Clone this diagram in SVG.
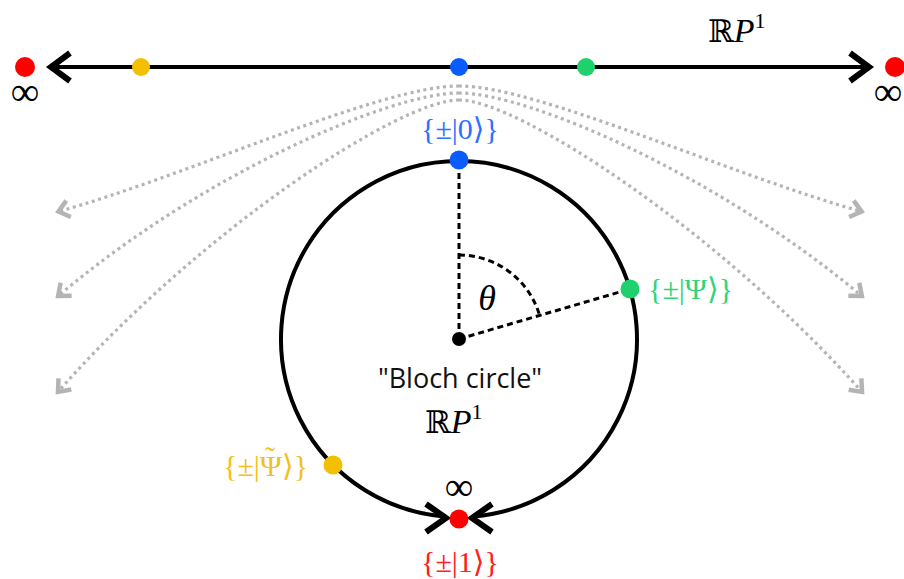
<svg xmlns="http://www.w3.org/2000/svg" width="904" height="579" viewBox="0 0 904 579">
<style>
.math{font-family:"Liberation Serif","DejaVu Serif",serif;}
.sym{font-family:"DejaVu Serif","Liberation Serif",serif;}
.inf{font-family:"Liberation Serif","DejaVu Serif",serif;font-size:40px;text-anchor:middle;}
.sans{font-family:"Open Sans","DejaVu Sans",sans-serif;}
.lbl{font-size:30px;}
.dotted{fill:none;stroke:#b4b4b4;stroke-width:3.2;stroke-dasharray:3 3.6;}
.dash{fill:none;stroke:#000;stroke-width:3;stroke-dasharray:6 4;}
.thick{fill:none;stroke:#000;stroke-width:4;}
.chev{fill:none;stroke:#000;stroke-width:6;stroke-linejoin:miter;stroke-linecap:butt;}
</style>
<defs>
<marker id="garrow" markerUnits="userSpaceOnUse" markerWidth="24" markerHeight="24" refX="0" refY="0" viewBox="-18 -12 22 24" orient="auto">
<path d="M-12,-8.5 L-1.5,0 L-12,8.5" fill="none" stroke="#b4b4b4" stroke-width="4.5"/>
</marker>
</defs>
<g id="connectors">
<path class="dotted" d="M459,86 C380,86 190,175 57,212" marker-end="url(#garrow)"/>
<path class="dotted" d="M459,93 C390,93 200,175 57,297" marker-end="url(#garrow)"/>
<path class="dotted" d="M459,100 C400,100 200,230 57,393" marker-end="url(#garrow)"/>
<path class="dotted" d="M459,86 C538,86 730,175 863,212" marker-end="url(#garrow)"/>
<path class="dotted" d="M459,93 C528,93 718,175 863,297" marker-end="url(#garrow)"/>
<path class="dotted" d="M459,100 C518,100 718,230 863,393" marker-end="url(#garrow)"/>
</g>
<g id="real-line">
<line class="thick" x1="52" y1="67" x2="868" y2="67"/>
<path class="chev" d="M70,53 L51,67 L70,81"/>
<path class="chev" d="M850,53 L869,67 L850,81"/>
<text class="math" x="708" y="42" font-size="34"><tspan class="sym" font-size="31">ℝ</tspan><tspan font-style="italic">P</tspan><tspan font-size="22" dy="-14">1</tspan></text>
</g>
<g id="inf-left">
<circle cx="25" cy="67" r="10" fill="#ff0000"/>
<text class="inf" x="25" y="105">∞</text>
</g>
<g id="inf-right">
<circle cx="895" cy="67" r="10" fill="#ff0000"/>
<text class="inf" x="888" y="105">∞</text>
</g>
<g id="line-points">
<circle cx="141" cy="67" r="9" fill="#f2c000"/>
<circle cx="459" cy="67" r="9" fill="#0a5cff"/>
<circle cx="586" cy="67" r="9" fill="#1fd16c"/>
</g>
<g id="circle">
<path class="thick" d="M444,516.4 A178,178 0 1 1 474,516.4"/>
<path class="chev" d="M426,504 L446,518 L426,532"/>
<path class="chev" d="M492,504 L472,518 L492,532"/>
<line class="dash" x1="459" y1="339" x2="459" y2="162"/>
<line class="dash" x1="459" y1="339" x2="630" y2="289"/>
<path class="dash" d="M459,255 A84,84 0 0 1 539.6,315.4"/>
<circle cx="459" cy="339" r="7" fill="#000"/>
<text class="math" x="487" y="310" font-size="36" font-style="italic" text-anchor="middle">θ</text>
<text class="sans" x="460" y="388" font-size="27" text-anchor="middle" fill="#111">"Bloch circle"</text>
<text class="math" x="425" y="433" font-size="34"><tspan class="sym" font-size="31">ℝ</tspan><tspan font-style="italic">P</tspan><tspan font-size="22" dy="-14">1</tspan></text>
</g>
<g id="state-0">
<circle cx="459" cy="160" r="9.5" fill="#0a5cff"/>
<text class="math lbl" x="460" y="139" text-anchor="middle" fill="#2f6fff">{±|0⟩}</text>
</g>
<g id="state-psi">
<circle cx="630" cy="289" r="9.5" fill="#1fd16c"/>
<text class="math lbl" x="648" y="299" fill="#2ed47a">{±|Ψ⟩}</text>
</g>
<g id="state-psitilde">
<circle cx="333" cy="465" r="9.5" fill="#f2c000"/>
<text class="math lbl" x="223" y="476" fill="#f0c020">{±|Ψ<tspan dx="-17" dy="-9">˜</tspan><tspan dx="7" dy="9">⟩}</tspan></text>
</g>
<g id="state-1">
<circle cx="459" cy="519" r="9.5" fill="#ff0000"/>
<text class="inf" x="459" y="500">∞</text>
<text class="math lbl" x="460" y="572" text-anchor="middle" fill="#ff2020">{±|1⟩}</text>
</g>
</svg>
